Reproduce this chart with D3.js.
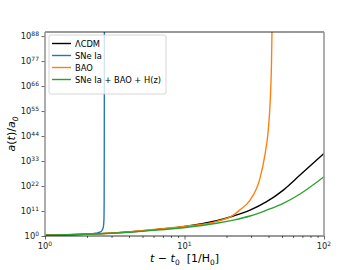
<!DOCTYPE html>
<html>
<head>
<meta charset="utf-8">
<script src="https://cdn.jsdelivr.net/npm/d3@7"></script>
<style>
  body { margin: 0; background: #fff; }
  svg { display: block; font-family: "DejaVu Sans", sans-serif; }
</style>
</head>
<body>
<svg id="chart" width="360" height="270"></svg>
<script>
let width = 360;
let height = 270;
let margin = {left: 45, right: 36, top: 32, bottom: 34};

// t - t0, and log10 of a(t)/a0
let seriesNames = ["ΛCDM", "SNe Ia", "BAO", "SNe Ia + BAO + H(z)"];
let seriesColors = ["#000000", "#1f77b4", "#ff7f0e", "#2ca02c"];

let lcdmT   = [1, 2, 3, 4, 5.66, 7.5, 9.8, 13, 17, 22.4, 29.5, 38.8, 51.1, 67.3, 100];
let lcdmExp = [0.35, 0.8, 1.25, 1.75, 2.6, 3.3, 4.1, 5.3, 6.7, 8.8, 11.4, 15.1, 20.2, 26.8, 36.4];

let sneT   = [1, 1.5, 2, 2.3, 2.5, 2.58, 2.62, 2.645, 2.655, 2.66, 2.665];
let sneExp = [0.3, 0.5, 0.8, 1.2, 1.8, 2.8, 4, 7, 15, 40, 95];

let baoT   = [1, 3, 5.66, 9.8, 17, 22.4, 25, 29.5, 34.8, 37.8, 39.9, 41.2, 42, 42.5];
let baoExp = [0.35, 1.3, 2.7, 4.2, 6.4, 9.2, 11.5, 15.8, 25.5, 36, 47, 60, 75, 95];

let allT   = [1, 3, 5.66, 9.8, 17, 22.4, 29.5, 38.8, 51.1, 67.3, 100];
let allExp = [0.35, 1.2, 2.4, 3.65, 5.6, 7.0, 8.8, 11.4, 14.4, 18.5, 26.1];

let yTickExps = [0, 11, 22, 33, 44, 55, 66, 77, 88];
let xTickExps = [0, 1, 2];

let toPoints = (ts, es) => ts.map((t, i) => ({t: t, a: Math.pow(10, es[i])}));
let series = [
  toPoints(lcdmT, lcdmExp),
  toPoints(sneT, sneExp),
  toPoints(baoT, baoExp),
  toPoints(allT, allExp)
];

let svg = d3.select("#chart");
let plotW = width - margin.left - margin.right;
let plotH = height - margin.top - margin.bottom;

let x = d3.scaleLog().domain([1, 100]).range([margin.left, margin.left + plotW]);
let y = d3.scaleLog().domain([1, Math.pow(10, 89.8)]).range([margin.top + plotH, margin.top]);

svg.append("defs").append("clipPath").attr("id", "clip")
  .append("rect")
  .attr("x", margin.left).attr("y", margin.top)
  .attr("width", plotW).attr("height", plotH);

// lines
let line = d3.line()
  .x(d => x(d.t))
  .y(d => y(d.a))
  .curve(d3.curveMonotoneX);

let lines = svg.append("g").attr("clip-path", "url(#clip)");
series.forEach((s, i) => {
  lines.append("path")
    .datum(s)
    .attr("fill", "none")
    .attr("stroke", seriesColors[i])
    .attr("stroke-width", 1.35)
    .attr("d", line);
});

// x axis
let xAxis = d3.axisBottom(x)
  .tickValues(d3.range(1, 10).concat(d3.range(10, 101, 10)))
  .tickSize(0)
  .tickFormat("");
let gx = svg.append("g")
  .attr("transform", `translate(0,${margin.top + plotH})`)
  .call(xAxis);
gx.select(".domain").remove();
gx.selectAll(".tick line")
  .attr("y2", d => (Math.log10(d) % 1 === 0) ? 3.5 : 2)
  .attr("stroke", "#000").attr("stroke-width", 0.6);

xTickExps.forEach(e => {
  let t = svg.append("text")
    .attr("x", x(Math.pow(10, e)))
    .attr("y", margin.top + plotH + 13)
    .attr("text-anchor", "middle")
    .attr("font-size", 8.3)
    .attr("fill", "#222");
  t.append("tspan").text("10");
  t.append("tspan").attr("dy", -3.5).attr("font-size", 6).text(e);
});

// y axis
let yAxis = d3.axisLeft(y)
  .tickValues(yTickExps.map(e => Math.pow(10, e)))
  .tickSize(3.5)
  .tickFormat("");
let gy = svg.append("g")
  .attr("transform", `translate(${margin.left},0)`)
  .call(yAxis);
gy.select(".domain").remove();
gy.selectAll(".tick line").attr("stroke", "#000").attr("stroke-width", 0.6);

yTickExps.forEach(e => {
  let t = svg.append("text")
    .attr("x", margin.left - 6)
    .attr("y", y(Math.pow(10, e)) + 3)
    .attr("text-anchor", "end")
    .attr("font-size", 8.3)
    .attr("fill", "#222");
  t.append("tspan").text("10");
  t.append("tspan").attr("dy", -3.5).attr("font-size", 6).text(e);
});

// spines
let x0 = margin.left, x1 = margin.left + plotW, y0 = margin.top, y1 = margin.top + plotH;
svg.append("line").attr("x1", x0).attr("x2", x1).attr("y1", y0).attr("y2", y0)
  .attr("stroke", "#000").attr("stroke-width", 0.8);
svg.append("line").attr("x1", x0).attr("x2", x1).attr("y1", y1).attr("y2", y1)
  .attr("stroke", "#000").attr("stroke-width", 0.8);
svg.append("line").attr("x1", x0).attr("x2", x0).attr("y1", y0).attr("y2", y1)
  .attr("stroke", "#999").attr("stroke-width", 1.6);
svg.append("line").attr("x1", x1).attr("x2", x1).attr("y1", y0).attr("y2", y1)
  .attr("stroke", "#999").attr("stroke-width", 1.6);

// legend
let lg = svg.append("g").attr("transform", `translate(${margin.left + 4},${margin.top + 3})`);
lg.append("rect")
  .attr("width", 117).attr("height", 59).attr("rx", 2)
  .attr("fill", "#fff").attr("fill-opacity", 0.8)
  .attr("stroke", "#ccc").attr("stroke-width", 0.8);
seriesNames.forEach((name, i) => {
  let yy = 8.5 + i * 12;
  lg.append("line")
    .attr("x1", 3).attr("x2", 22).attr("y1", yy).attr("y2", yy)
    .attr("stroke", seriesColors[i]).attr("stroke-width", 1.4);
  lg.append("text")
    .attr("x", 26).attr("y", yy + 3)
    .attr("font-size", 8.3).attr("fill", "#000")
    .text(name);
});

// axis labels
let xl = svg.append("text")
  .attr("x", margin.left + plotW / 2)
  .attr("y", 262)
  .attr("text-anchor", "middle")
  .attr("font-size", 11);
xl.append("tspan").attr("font-style", "italic").text("t");
xl.append("tspan").text(" − ");
xl.append("tspan").attr("font-style", "italic").text("t");
xl.append("tspan").attr("font-size", 7.5).attr("dy", 2.5).text("0");
xl.append("tspan").attr("dy", -2.5).text("\u00a0\u00a0[1/H");
xl.append("tspan").attr("font-size", 7.5).attr("dy", 2.5).text("0");
xl.append("tspan").attr("dy", -2.5).text("]");

let yl = svg.append("text")
  .attr("transform", `translate(15,${margin.top + plotH / 2}) rotate(-90)`)
  .attr("text-anchor", "middle")
  .attr("font-size", 11);
yl.append("tspan").attr("font-style", "italic").text("a");
yl.append("tspan").text("(");
yl.append("tspan").attr("font-style", "italic").text("t");
yl.append("tspan").text(")/");
yl.append("tspan").attr("font-style", "italic").text("a");
yl.append("tspan").attr("font-size", 7.5).attr("dy", 2.5).attr("font-style", "italic").text("0");
</script>
</body>
</html>
